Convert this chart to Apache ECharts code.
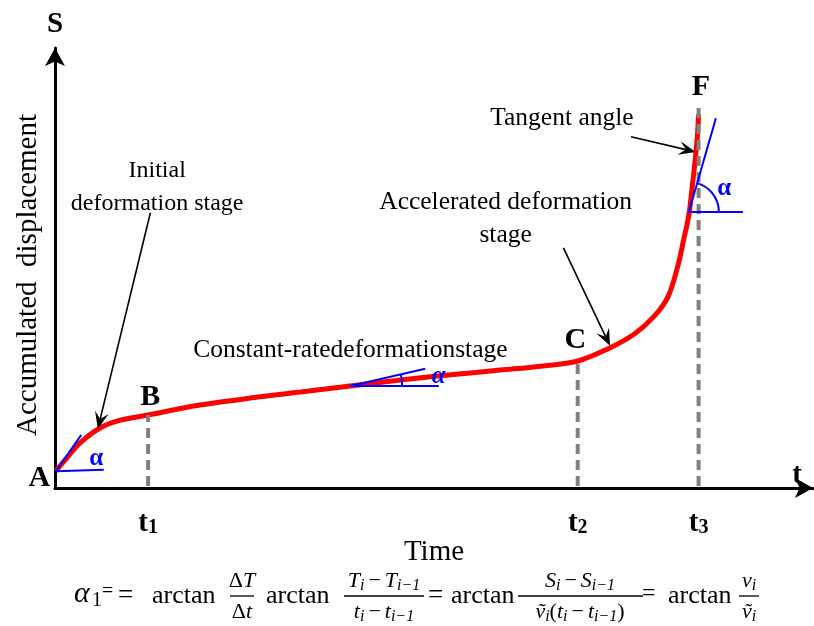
<!DOCTYPE html>
<html><head><meta charset="utf-8">
<script src="https://cdn.jsdelivr.net/npm/echarts/dist/echarts.min.js"></script>
<style>html,body{margin:0;padding:0;background:#fff}#main{width:814px;height:626px}</style>
</head><body><div id="main"></div>
<script>
// ---- data (schematic units: time 0..100, displacement 0..100) ----
const curveT = [0.1,1.7,3.3,6.0,8.7,12.4,19.3,27.3,32.7,39.3,46.0,52.7,59.3,64.7,69.6,73.6,77.1,79.7,81.6,82.9,83.7,84.4,84.8,85.2,85.5,85.7];
const curveS = [3.9,7.2,10.4,13.9,15.7,16.9,19.2,21.1,22.2,23.6,25.0,26.2,27.3,28.2,29.4,32.2,35.6,39.6,44.2,51.2,57.4,63.2,69.0,75.2,80.6,86.5];

const stageTickLabels = ['1','2','3'];
const stageT = [12.4, 69.6, 85.7];
const stageTop = [16.9, 29.4, 88.0];

const pointNames = ['A','B','C','F','S','t'];
const pointT = [-2.1, 12.7, 69.3, 86.0, 0.0, 98.8];
const pointS = [2.3, 21.1, 34.3, 92.8, 107.2, 2.8];

const noteTexts = ['Initial\ndeformation stage','Accelerated deformation\nstage','Tangent angle'];
const noteT = [13.6, 60.0, 67.5];
const noteS = [69.7, 62.3, 85.6];
const constNote = 'Constant-ratedeformationstage';
const constNoteT = [18.4];
const constNoteS = [31.9];

// arrows: from (T,S) to (T,S)
const arrowFromT = [12.7, 67.7, 76.7];
const arrowFromS = [63.7, 55.6, 81.3];
const arrowToT = [5.7, 73.9, 85.3];
const arrowToS = [13.7, 32.9, 77.8];

// tangent constructions: origin, tangent end, horizontal end
const tanOriginT = [0.13, 39.3, 84.4];
const tanOriginS = [3.9, 23.6, 63.9];
const tanEndT = [3.5, 49.3, 88.0];
const tanEndS = [12.3, 27.6, 85.6];
const horEndT = [6.5, 51.1, 91.6];
const horEndS = [4.2, 23.6, 63.9];
const alphaT = [5.5, 51.1, 89.1];
const alphaS = [6.9, 25.9, 69.4];

// ---- styles ----
const SERIF = '"Liberation Serif","Times New Roman",serif';
const ARC_R = [0, 52, 30];
const BLUE = '#0000ff';

const chart = echarts.init(document.getElementById('main'), null, {renderer:'canvas'});

function axisCommon(max){
  return {
    type:'value', min:0, max:max,
    axisLine:{show:true, onZero:false, symbol:['none','arrow'], symbolSize:[15,18], lineStyle:{color:'#000', width:3}},
    axisTick:{show:false}, axisLabel:{show:false}, splitLine:{show:false},
    nameTextStyle:{fontFamily:SERIF, fontSize:29, color:'#000'}
  };
}
const xAxis = Object.assign(axisCommon(100.93), {name:'Time', nameLocation:'middle', nameGap:50});
const yAxis = Object.assign(axisCommon(101.85), {name:'Accumulated  displacement', nameLocation:'middle', nameGap:12});
yAxis.nameTextStyle = Object.assign({}, yAxis.nameTextStyle, {padding:[0,14,0,0]});

const tanData = tanOriginT.map((v,i)=>[v, tanOriginS[i], tanEndT[i], tanEndS[i], horEndT[i], horEndS[i]]);
const arrowData = arrowFromT.map((v,i)=>[v, arrowFromS[i], arrowToT[i], arrowToS[i]]);

// ---- formula (below the chart) ----
const mathRich = {
  m:{fontFamily:SERIF, fontStyle:'italic', fontSize:22, fill:'#000'},
  u:{fontFamily:SERIF, fontSize:22, fill:'#000', padding:[0,4,0,4]},
  d:{fontFamily:SERIF, fontSize:22, fill:'#000'},
  s:{fontFamily:SERIF, fontStyle:'italic', fontSize:16, fill:'#000', padding:[9,0,0,0]}
};
const FY = 596;
function ftext(x, y, text, size, extra){
  return {type:'text', x:x, y:y, z:100, style:Object.assign({text:text, fontFamily:SERIF, fontSize:size, fill:'#000', align:'left', verticalAlign:'middle'}, extra||{})};
}
function frac(cx, x1, x2, num, den){
  return [
    {type:'text', x:cx, y:FY-15, z:100, style:{text:num, rich:mathRich, align:'center', verticalAlign:'middle'}},
    {type:'line', z:100, shape:{x1:x1, y1:FY, x2:x2, y2:FY}, style:{stroke:'#000', lineWidth:1.3}},
    {type:'text', x:cx, y:FY+16, z:100, style:{text:den, rich:mathRich, align:'center', verticalAlign:'middle'}}
  ];
}
const formula = [].concat(
  [ ftext(74, FY-2, 'α', 30, {fontStyle:'italic'}),
    ftext(92, FY+5, '1', 20),
    ftext(102, FY-4, '=', 20),
    ftext(118, FY, '=', 27),
    ftext(152, FY, 'arctan', 26) ],
  frac(242, 230, 254, '{d|Δ}{m|T}', '{d|Δ}{m|t}'),
  [ ftext(266, FY, 'arctan', 26) ],
  frac(384, 344, 424, '{m|T}{s|i}{u|−}{m|T}{s|i−1}', '{m|t}{s|i}{u|−}{m|t}{s|i−1}'),
  [ ftext(428, FY, '=', 27), ftext(451, FY, 'arctan', 26) ],
  frac(580, 518, 643, '{m|S}{s|i}{u|−}{m|S}{s|i−1}', '{m|ṽ}{s|i}{d|(}{m|t}{s|i}{u|−}{m|t}{s|i−1}{d|)}'),
  [ ftext(642, FY-2, '=', 24), ftext(668, FY, 'arctan', 26) ],
  frac(749, 739, 759, '{m|v}{s|i}', '{m|ṽ}{s|i}')
);

const option = {
  animation:false,
  grid:{left:55, right:1, top:48, bottom:138},
  xAxis:xAxis, yAxis:yAxis,
  graphic:formula,
  series:[
    { type:'line', z:2, data:curveT.map((t,i)=>[t, curveS[i]]), symbol:'none', smooth:0.35,
      lineStyle:{color:'#ff0000', width:5}, silent:true },
    { type:'custom', z:3, clip:false, data:stageT.map((t,i)=>[t, stageTop[i]]),
      renderItem:function(params, api){
        const p0 = api.coord([api.value(0), 0]);
        const p1 = api.coord([api.value(0), api.value(1)]);
        return {type:'group', children:[
          {type:'line', shape:{x1:p0[0], y1:p0[1]-2, x2:p1[0], y2:p1[1]}, style:{stroke:'#808080', lineWidth:4, lineDash:[10,6]}},
          {type:'text', x:p0[0], y:p0[1]+36, style:{text:'{b|t}{n|'+stageTickLabels[params.dataIndex]+'}', align:'center', verticalAlign:'middle',
            rich:{b:{fontFamily:SERIF, fontWeight:'bold', fontSize:29, fill:'#000'}, n:{fontFamily:SERIF, fontWeight:'bold', fontSize:20, fill:'#000', padding:[8,0,0,0]}}}}
        ]};
      } },
    { type:'custom', z:4, clip:false, data:tanData,
      renderItem:function(params, api){
        const o = api.coord([api.value(0), api.value(1)]);
        const t = api.coord([api.value(2), api.value(3)]);
        const h = api.coord([api.value(4), api.value(5)]);
        const ch = [
          {type:'line', shape:{x1:o[0], y1:o[1], x2:t[0], y2:t[1]}, style:{stroke:BLUE, lineWidth:2}},
          {type:'line', shape:{x1:o[0], y1:o[1], x2:h[0], y2:h[1]}, style:{stroke:BLUE, lineWidth:2}}
        ];
        const r = ARC_R[params.dataIndex];
        if (r > 0) {
          const a = Math.atan2(t[1]-o[1], t[0]-o[0]);
          ch.push({type:'arc', shape:{cx:o[0], cy:o[1], r:r, startAngle:a, endAngle:0, clockwise:true}, style:{stroke:BLUE, lineWidth:2, fill:null}});
        }
        return {type:'group', children:ch};
      } },
    { type:'custom', z:5, clip:false, data:alphaT.map((t,i)=>[t, alphaS[i]]),
      renderItem:function(params, api){
        const p = api.coord([api.value(0), api.value(1)]);
        return {type:'text', x:p[0], y:p[1], style:{text:'α', fontFamily:SERIF, fontWeight:'bold', fontStyle: params.dataIndex===1?'italic':'normal', fontSize:25, fill:BLUE, align:'center', verticalAlign:'middle'}};
      } },
    { type:'custom', z:6, clip:false, data:arrowData,
      renderItem:function(params, api){
        const p0 = api.coord([api.value(0), api.value(1)]);
        const p1 = api.coord([api.value(2), api.value(3)]);
        const ang = Math.atan2(p1[1]-p0[1], p1[0]-p0[0]);
        const c = Math.cos(ang), s = Math.sin(ang);
        const L = 17, W = 7, N = 10;
        const bx = p1[0]-L*c, by = p1[1]-L*s;
        const nx = p1[0]-N*c, ny = p1[1]-N*s;
        return {type:'group', children:[
          {type:'line', shape:{x1:p0[0], y1:p0[1], x2:nx, y2:ny}, style:{stroke:'#000', lineWidth:1.6}},
          {type:'polygon', shape:{points:[[p1[0],p1[1]],[bx - W*s, by + W*c],[nx,ny],[bx + W*s, by - W*c]]}, style:{fill:'#000'}}
        ]};
      } },
    { type:'custom', z:7, clip:false, data:pointT.map((t,i)=>[t, pointS[i]]),
      renderItem:function(params, api){
        const p = api.coord([api.value(0), api.value(1)]);
        const big = params.dataIndex < 4;
        return {type:'text', x:p[0], y:p[1], style:{text:pointNames[params.dataIndex], fontFamily:SERIF, fontWeight:'bold', fontSize: big?30:29, fill:'#000', align:'center', verticalAlign:'middle'}};
      } },
    { type:'custom', z:7, clip:false, data:noteT.map((t,i)=>[t, noteS[i]]),
      renderItem:function(params, api){
        const p = api.coord([api.value(0), api.value(1)]);
        return {type:'text', x:p[0], y:p[1], style:{text:noteTexts[params.dataIndex], fontFamily:SERIF, fontSize: params.dataIndex===0?24:25.5, lineHeight:33, fill:'#000', align:'center', verticalAlign:'middle'}};
      } },
    { type:'custom', z:7, clip:false, data:constNoteT.map((t,i)=>[t, constNoteS[i]]),
      renderItem:function(params, api){
        const p = api.coord([api.value(0), api.value(1)]);
        return {type:'text', x:p[0], y:p[1], style:{text:constNote, fontFamily:SERIF, fontSize:25.5, fill:'#000', align:'left', verticalAlign:'middle'}};
      } }
  ]
};
chart.setOption(option);
</script>
</body></html>
